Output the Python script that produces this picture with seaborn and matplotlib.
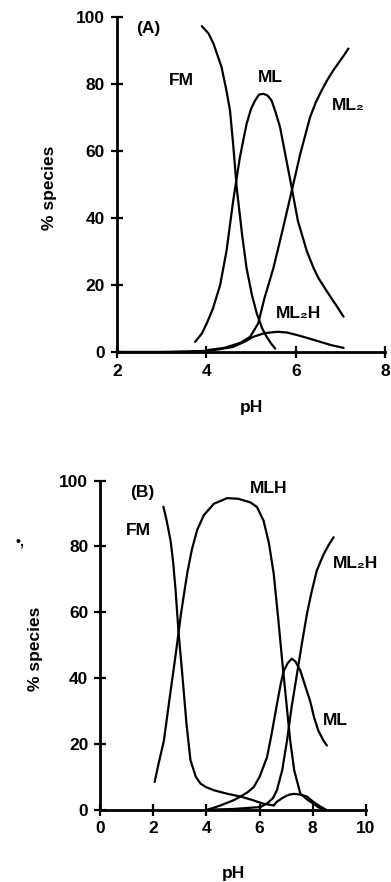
import numpy as np
import pandas as pd
import matplotlib
matplotlib.use("Agg")
import matplotlib.pyplot as plt
import seaborn as sns

# Panel A data (pH, % species)
a_fm_ph = [3.90, 4.05, 4.16, 4.34, 4.45, 4.53, 4.60, 4.68, 4.80, 4.90, 5.02, 5.13, 5.25, 5.35, 5.45, 5.54]
a_fm = [97.2, 95, 92, 85, 78, 72, 62, 49, 35, 25, 17, 11.4, 7, 4.5, 2.5, 1]

a_ml_ph = [3.75, 3.90, 4.01, 4.15, 4.31, 4.45, 4.60, 4.75, 4.90, 5.00, 5.09, 5.18, 5.28, 5.37,
           5.46, 5.55, 5.65, 5.78, 5.91, 6.05, 6.25, 6.40, 6.51, 6.70, 6.90, 7.07]
a_ml = [3, 5.5, 8.5, 13, 20, 30, 45, 58, 68, 72.5, 75, 76.8, 77, 76.5,
        75, 71.5, 67, 58, 49, 39, 30, 25, 22, 18, 14, 10.5]

a_ml2_ph = [4.0, 4.4, 4.76, 4.98, 5.16, 5.30, 5.50, 5.70, 5.91, 6.10, 6.32, 6.45, 6.58, 6.70, 6.84, 7.00, 7.18]
a_ml2 = [0.5, 1.2, 2.7, 4.5, 8.5, 16, 25, 36, 48, 59, 70, 74.5, 78, 81, 84, 87, 90.5]

a_ml2h_ph = [2.0, 3.0, 4.0, 4.3, 4.6, 4.85, 5.05, 5.3, 5.59, 5.8, 6.04, 6.3, 6.55, 6.8, 7.07]
a_ml2h = [0, 0, 0.3, 0.8, 1.5, 3, 4.5, 5.6, 6, 5.8, 5, 4, 3, 2, 1.2]

# Panel B data
b_fm_ph = [2.38, 2.50, 2.65, 2.75, 2.84, 2.95, 3.09, 3.25, 3.40, 3.60, 3.78, 4.00, 4.28, 4.80, 5.28, 5.70, 6.15, 6.53]
b_fm = [92.1, 88, 81.8, 75, 66.6, 54, 41.3, 26, 15, 10, 7.9, 6.8, 5.9, 4.8, 4, 3, 1.8, 1.3]

b_mlh_ph = [2.05, 2.20, 2.40, 2.60, 2.84, 3.05, 3.28, 3.45, 3.65, 3.90, 4.28, 4.78, 5.20, 5.65,
            5.90, 6.15, 6.35, 6.53, 6.70, 6.84, 7.00, 7.15, 7.30, 7.53, 7.80, 8.03, 8.20, 8.40]
b_mlh = [8.4, 14, 21, 33, 47, 60, 72, 79, 85, 89.5, 93, 94.7, 94.5, 93.4,
         92, 87.8, 81, 71.7, 58, 46, 33, 21, 12, 4.9, 3, 1.8, 0.8, 0]

b_ml_ph = [4.05, 4.50, 5.00, 5.28, 5.55, 5.78, 6.00, 6.28, 6.45, 6.65, 6.80, 6.90, 7.05, 7.21,
           7.35, 7.53, 7.70, 7.90, 8.05, 8.21, 8.40, 8.53]
b_ml = [0, 1.2, 2.8, 4, 5.3, 6.9, 10, 16, 23, 32, 38.5, 42, 44.5, 45.9,
        45, 42.3, 38, 33, 28, 24, 21, 19.5]

b_ml2h_ph = [4.0, 5.0, 6.03, 6.30, 6.50, 6.65, 6.85, 7.03, 7.20, 7.40, 7.60, 7.78, 7.95, 8.15, 8.40, 8.60, 8.78]
b_ml2h = [0, 0.2, 0.8, 2, 3.5, 5.9, 12, 21, 31, 41, 51, 59.5, 66, 72.7, 77.5, 80.5, 82.8]

b_ml2_ph = [6.53, 6.65, 6.85, 7.00, 7.14, 7.30, 7.50, 7.78, 8.00, 8.27, 8.50]
b_ml2 = [1.3, 2.4, 3.5, 4.2, 4.6, 4.8, 4.6, 4.0, 2.5, 1.0, 0]

a_ticks_x = [2, 4, 6, 8]
b_ticks_x = [0, 2, 4, 6, 8, 10]
ticks_y = [0, 20, 40, 60, 80, 100]


def to_long(series):
    rows = []
    for name, xs, ys in series:
        for x, y in zip(xs, ys):
            rows.append({"pH": x, "pct": y, "species": name})
    return pd.DataFrame(rows)


df_a = to_long([("FM", a_fm_ph, a_fm), ("ML", a_ml_ph, a_ml),
                ("ML2", a_ml2_ph, a_ml2), ("ML2H", a_ml2h_ph, a_ml2h)])
df_b = to_long([("FM", b_fm_ph, b_fm), ("MLH", b_mlh_ph, b_mlh), ("ML", b_ml_ph, b_ml),
                ("ML2H", b_ml2h_ph, b_ml2h), ("ML2", b_ml2_ph, b_ml2)])

sns.set_style("ticks")
plt.rcParams["font.family"] = ["Liberation Sans", "DejaVu Sans"]
plt.rcParams["font.weight"] = "bold"
plt.rcParams["axes.labelweight"] = "bold"
plt.rcParams["text.color"] = "black"
plt.rcParams["axes.labelcolor"] = "black"
plt.rcParams["xtick.color"] = "black"
plt.rcParams["ytick.color"] = "black"

fig = plt.figure(figsize=(3.91, 8.82), dpi=100)
ax_a = fig.add_axes([0.299, 0.601, 0.686, 0.380])
ax_b = fig.add_axes([0.256, 0.082, 0.680, 0.373])

fs = 12.5


def style_axis(ax, xlim, xticks):
    ax.set_xlim(*xlim)
    ax.set_ylim(0, 100)
    ax.set_xticks(xticks)
    ax.set_yticks(ticks_y)
    for s in ["top", "right"]:
        ax.spines[s].set_visible(False)
    for s in ["left", "bottom"]:
        ax.spines[s].set_linewidth(2)
        ax.spines[s].set_color("black")
    ax.tick_params(direction="inout", length=9, width=1.6, colors="black",
                   labelsize=fs, pad=4)
    for lab in ax.get_xticklabels() + ax.get_yticklabels():
        lab.set_fontweight("bold")
        lab.set_color("black")


# Panel A
sns.lineplot(data=df_a, x="pH", y="pct", hue="species", palette=["black"] * 4,
             estimator=None, legend=False, linewidth=1.6, ax=ax_a)
style_axis(ax_a, (2, 8), a_ticks_x)
ax_a.set_xlabel("pH", fontsize=fs, fontweight="bold")
ax_a.set_ylabel("% species", fontsize=fs, fontweight="bold")
ax_a.xaxis.set_label_coords(0.50, -0.143)
ax_a.yaxis.set_label_coords(-0.223, 0.49)
ax_a.text(2.70, 96.5, "(A)", fontsize=fs, ha="center", va="center")
ax_a.text(3.45, 81, "FM", fontsize=fs, ha="center", va="center")
ax_a.text(5.43, 82, "ML", fontsize=fs, ha="center", va="center")
ax_a.text(7.18, 73.6, "ML₂", fontsize=fs, ha="center", va="center")
ax_a.text(6.06, 11.4, "ML₂H", fontsize=fs, ha="center", va="center")

# Panel B
sns.lineplot(data=df_b, x="pH", y="pct", hue="species", palette=["black"] * 5,
             estimator=None, legend=False, linewidth=1.6, ax=ax_b)
style_axis(ax_b, (0, 10), b_ticks_x)
ax_b.set_xlabel("pH", fontsize=fs, fontweight="bold")
ax_b.set_ylabel("% species", fontsize=fs, fontweight="bold")
ax_b.xaxis.set_label_coords(0.50, -0.17)
ax_b.yaxis.set_label_coords(-0.214, 0.49)
ax_b.text(1.59, 96.5, "(B)", fontsize=fs, ha="center", va="center")
ax_b.text(6.34, 97.5, "MLH", fontsize=fs, ha="center", va="center")
ax_b.text(1.43, 84.8, "FM", fontsize=fs, ha="center", va="center")
ax_b.text(9.59, 74.7, "ML₂H", fontsize=fs, ha="center", va="center")
ax_b.text(8.84, 27, "ML", fontsize=fs, ha="center", va="center")

# scan mark left of panel B
fig.text(0.052, 1 - 541 / 882, "•,", fontsize=10, ha="center", va="center")

fig.savefig("out.png", dpi=100)
